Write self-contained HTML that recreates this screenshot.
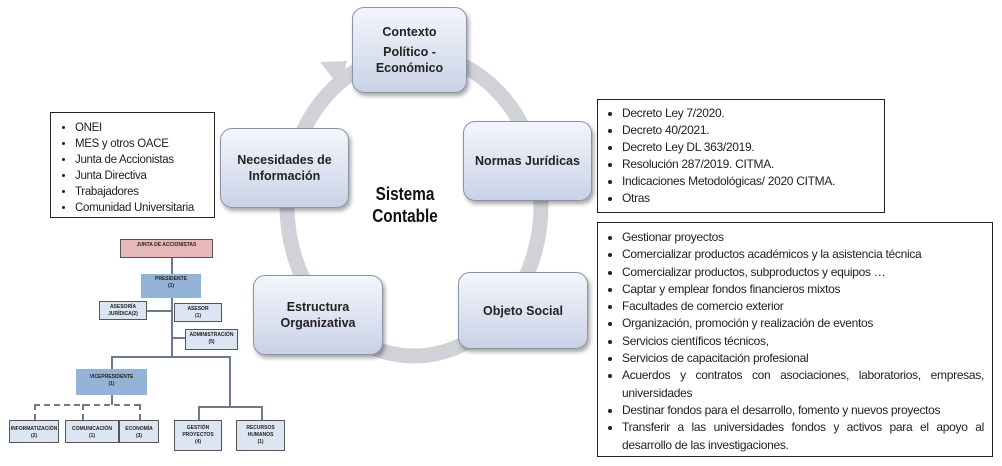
<!DOCTYPE html>
<html><head><meta charset="utf-8"><style>
body{margin:0;width:1002px;height:466px;background:#fff;position:relative;overflow:hidden;font-family:"Liberation Sans",sans-serif;}
.a{position:absolute;box-sizing:border-box;}
.node{position:absolute;box-sizing:border-box;border:1.5px solid #8a93a8;border-radius:12px;background:linear-gradient(#f4f6fb,#c9d2e6);box-shadow:2px 3px 4px rgba(0,0,0,.35);display:flex;align-items:center;justify-content:center;text-align:center;font-weight:bold;font-size:12.5px;color:#222;line-height:16px;}
.box{position:absolute;box-sizing:border-box;border:1.5px solid #222;background:#fff;}
.box ul{margin:0;padding:0 0 0 24px;list-style:disc;font-size:12px;color:#222;letter-spacing:-0.3px;}
.box li{padding-left:0;}
.o{position:absolute;box-sizing:border-box;border:1.5px solid #555;background:#dce6f2;font-size:5px;font-weight:bold;text-align:center;line-height:7px;color:#222;padding-top:2px;}
.l{position:absolute;background:#6b7a90;}
</style></head><body>
<svg class="a" style="left:0;top:0" width="1002" height="466">
<ellipse cx="414" cy="205" rx="127" ry="151" fill="none" stroke="#d0d2d8" stroke-width="15"/>
<polygon points="320,62 347,61 340,87" fill="#d0d2d8"/>
</svg>
<div class="node" style="left:352px;top:7px;width:115px;height:86px;flex-direction:column;"><div>Contexto</div><div style="margin-top:4px">Político -<br>Económico</div></div>
<div class="node" style="left:463px;top:121px;width:129px;height:80px;">Normas Jurídicas</div>
<div class="node" style="left:458px;top:272px;width:130px;height:77px;">Objeto Social</div>
<div class="node" style="left:253px;top:275px;width:130px;height:80px;">Estructura<br>Organizativa</div>
<div class="node" style="left:220px;top:128px;width:129px;height:80px;">Necesidades de<br>Información</div>
<div class="a" style="left:360px;top:183px;width:90px;text-align:center;font-weight:bold;font-size:18px;line-height:22px;color:#111;transform:scaleX(.85)">Sistema<br>Contable</div>

<div class="box" style="left:50px;top:112px;width:165px;height:106px;padding-top:7px;"><ul style="line-height:16px;font-size:11.5px"><li>ONEI</li><li>MES y otros OACE</li><li>Junta de Accionistas</li><li>Junta Directiva</li><li>Trabajadores</li><li>Comunidad Universitaria</li></ul></div>
<div class="box" style="left:597px;top:99px;width:288px;height:114px;padding-top:5px;"><ul style="line-height:17px"><li>Decreto Ley 7/2020.</li><li>Decreto 40/2021.</li><li>Decreto Ley DL 363/2019.</li><li>Resolución 287/2019. CITMA.</li><li>Indicaciones Metodológicas/ 2020 CITMA.</li><li>Otras</li></ul></div>
<div class="box" style="left:597px;top:222px;width:396px;height:235px;padding-top:6px;padding-right:8px;"><ul style="line-height:17.3px;text-align:justify"><li>Gestionar proyectos</li><li>Comercializar productos académicos y la asistencia técnica</li><li>Comercializar productos, subproductos y equipos …</li><li>Captar y emplear fondos financieros mixtos</li><li>Facultades de comercio exterior</li><li>Organización, promoción y realización de eventos</li><li>Servicios científicos técnicos,</li><li>Servicios de capacitación profesional</li><li>Acuerdos y contratos con asociaciones, laboratorios, empresas, universidades</li><li>Destinar fondos para el desarrollo, fomento y nuevos proyectos</li><li>Transferir a las universidades fondos y activos para el apoyo al desarrollo de las investigaciones.</li></ul></div>

<!-- org chart -->
<div class="l" style="left:171px;top:258px;width:2px;height:16px"></div>
<div class="l" style="left:171px;top:298px;width:2px;height:58px"></div>
<div class="l" style="left:147px;top:310px;width:26px;height:2px"></div>
<div class="l" style="left:171px;top:337px;width:14px;height:2px"></div>
<div class="l" style="left:111px;top:356px;width:120px;height:2px"></div>
<div class="l" style="left:111px;top:356px;width:2px;height:13px"></div>
<div class="l" style="left:229px;top:356px;width:2px;height:51px"></div>
<div class="l" style="left:198px;top:406px;width:64px;height:2px"></div>
<div class="l" style="left:198px;top:406px;width:2px;height:14px"></div>
<div class="l" style="left:261px;top:406px;width:2px;height:14px"></div>
<div class="a" style="left:111px;top:395px;width:0;height:10px;border-left:2px dashed #6b7a90"></div>
<div class="a" style="left:34px;top:404px;width:106px;height:0;border-top:2px dashed #6b7a90"></div>
<div class="a" style="left:34px;top:404px;height:16px;border-left:2px dashed #6b7a90"></div>
<div class="a" style="left:82px;top:404px;height:16px;border-left:2px dashed #6b7a90"></div>
<div class="a" style="left:139px;top:404px;height:16px;border-left:2px dashed #6b7a90"></div>
<div class="o" style="left:120px;top:239px;width:93px;height:19px;background:#e6b9b8;">JUNTA DE ACCIONISTAS</div>
<div class="o" style="left:141px;top:274px;width:60px;height:24px;background:#95b3d7;border:none;">PRESIDENTE<br>(1)</div>
<div class="o" style="left:99px;top:301px;width:48px;height:19px;">ASESORÍA<br>JURÍDICA(2)</div>
<div class="o" style="left:174px;top:303px;width:48px;height:19px;">ASESOR<br>(1)</div>
<div class="o" style="left:185px;top:329px;width:53px;height:21px;">ADMINISTRACIÓN<br>(5)</div>
<div class="o" style="left:76px;top:369px;width:71px;height:26px;background:#95b3d7;border:none;padding-top:5px">VICEPRESIDENTE<br>(1)</div>
<div class="o" style="left:9px;top:420px;width:50px;height:23px;padding-top:5px">INFORMATIZACIÓN<br>(2)</div>
<div class="o" style="left:65px;top:420px;width:54px;height:23px;padding-top:5px">COMUNICACIÓN<br>(1)</div>
<div class="o" style="left:119px;top:420px;width:40px;height:23px;padding-top:5px">ECONOMÍA<br>(3)</div>
<div class="o" style="left:174px;top:420px;width:48px;height:31px;padding-top:4px">GESTIÓN<br>PROYECTOS<br>(4)</div>
<div class="o" style="left:236px;top:420px;width:49px;height:31px;padding-top:4px">RECURSOS<br>HUMANOS<br>(1)</div>
</body></html>
